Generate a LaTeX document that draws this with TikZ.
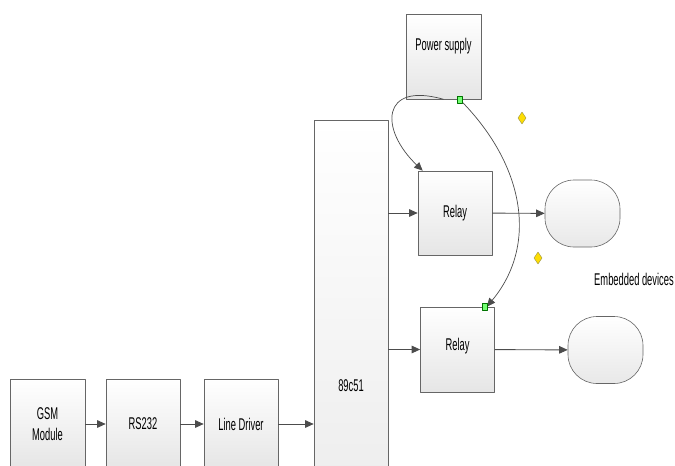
\documentclass[tikz,border=0pt]{standalone}
\usepackage{fontspec}
\setmainfont{Liberation Sans}[FakeStretch=0.55]
\usetikzlibrary{arrows.meta}
\begin{document}
\begin{tikzpicture}[x=1pt, y=-1pt, line width=0.6pt, line join=round,
    font=\fontsize{17}{21}\selectfont,
    blk/.style={draw=black!60, top color=white, bottom color=black!10,
      minimum width=74pt, inner sep=0pt, align=center},
    dev/.style={draw=black!60, top color=white, bottom color=black!9,
      rounded corners=29pt, minimum width=75pt, minimum height=67pt},
    arr/.style={draw=black!70, line width=0.9pt, -{Triangle[length=8.5pt,width=7.5pt]}},
    handle/.style={draw=green!45!black, fill=green!55!white, line width=0.5pt,
      minimum width=5pt, minimum height=7pt, inner sep=0pt},
    gizmo/.style={draw=yellow!50!black, fill=yellow!80!orange, line width=0.4pt}]
  \useasboundingbox (0,0) rectangle (675,466);
  \clip (0,0) rectangle (675,466);
  % Eingangskette
  \node[blk, minimum width=75pt, minimum height=90pt] (gsm) at (47.5,424) {GSM\\Module};
  \node[blk, minimum height=90pt] (rs) at (143,424) {RS232};
  \node[blk, minimum height=90pt] (drv) at (241,424) {Line Driver};
  % Controller
  \node[blk, minimum height=532pt] (mcu) at (351,386) {89c51};
  % Versorgung und Relais
  \node[blk, minimum width=75pt, minimum height=85pt, text depth=24pt] (ps) at (443.5,56.5) {Power supply};
  \node[blk, minimum height=84pt] (rl1) at (455,213) {Relay};
  \node[blk, minimum height=85pt, text depth=10pt] (rl2) at (457.5,349.5) {Relay};
  % Verbraucher
  \node[dev] (dev1) at (582.5,213.5) {};
  \node[dev] (dev2) at (605.5,350) {};
  \node (emb) at (634,279) {Embedded devices};
  % Verbindungen
  \draw[arr] (gsm) -- (rs);
  \draw[arr] (rs) -- (drv);
  \draw[arr] (drv) -- (drv -| mcu.west);
  \draw[arr] (rl1 -| mcu.east) -- (rl1);
  \draw[arr] (rl2 -| mcu.east) -- (rl2);
  \draw[arr] (rl1) -- (dev1);
  \draw[arr] (rl2) -- (dev2);
  \draw[arr, line width=0.7pt] (ps.south) .. controls +(-63,-18) and +(-43,-41) .. ([xshift=5pt]rl1.north west);
  \draw[arr, line width=0.7pt] ([xshift=16pt]ps.south) .. controls +(66,66) and +(51,-61) .. ([xshift=-8pt]rl2.north east);
  % Markierungen
  \node[handle] (h1) at ([xshift=16pt]ps.south) {};
  \node[handle] (h2) at ([xshift=-10pt]rl2.north east) {};
  \draw[gizmo] (522,118) +(0,-6) -- +(4,0) -- +(0,6) -- +(-4,0) -- cycle;
  \draw[gizmo] (538,258) +(0,-6) -- +(4,0) -- +(0,6) -- +(-4,0) -- cycle;
\end{tikzpicture}
\end{document}
